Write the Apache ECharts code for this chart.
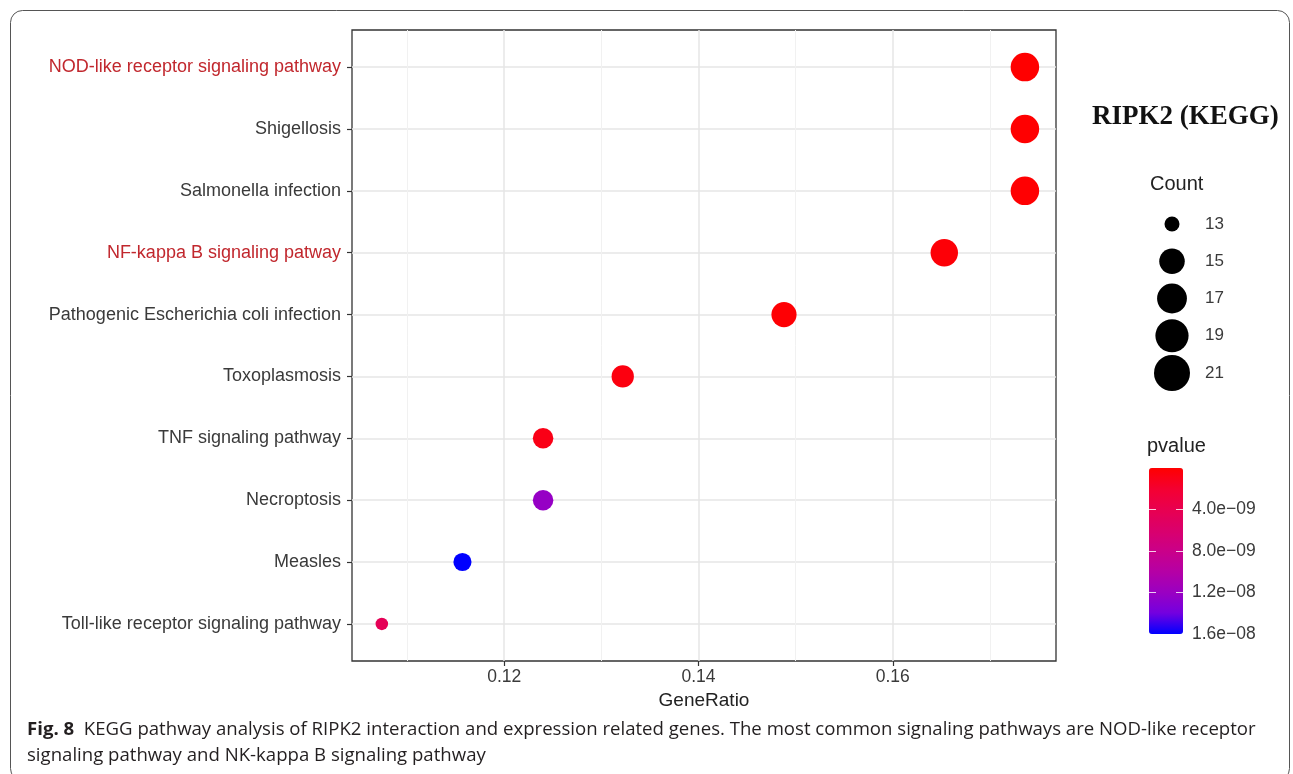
<!DOCTYPE html>
<html>
<head>
<meta charset="utf-8">
<script src="https://cdn.jsdelivr.net/npm/echarts@6/dist/echarts.min.js"></script>
<style>
  html, body { margin: 0; padding: 0; background: #fff; }
  #chart { width: 1293px; height: 774px; }
</style>
</head>
<body>
<div id="chart"></div>
<script>
// pathways, top to bottom
const pathways = [
  'NOD-like receptor signaling pathway',
  'Shigellosis',
  'Salmonella infection',
  'NF-kappa B signaling patway',
  'Pathogenic Escherichia coli infection',
  'Toxoplasmosis',
  'TNF signaling pathway',
  'Necroptosis',
  'Measles',
  'Toll-like receptor signaling pathway',
];
const geneRatio = [0.1736, 0.1736, 0.1736, 0.1653, 0.1488, 0.1322, 0.124, 0.124, 0.1157, 0.1074];
const counts = [21, 21, 21, 20, 18, 16, 15, 15, 14, 13];
const pvalues = [2e-11, 5e-11, 8e-11, 3e-10, 1.5e-10, 6e-10, 9e-10, 1.22e-8, 1.6e-8, 4.4e-9];
const highlighted = ['NOD-like receptor signaling pathway', 'NF-kappa B signaling patway'];

const xTicks = [0.12, 0.14, 0.16];
const xMinorTicks = [0.11, 0.13, 0.15, 0.17];
const countBreaks = [13, 15, 17, 19, 21];
const pvalueTicks = [4e-9, 8e-9, 1.2e-8, 1.6e-8];

const FONT = 'Liberation Sans';
const TXT = '#3a3a3a';

// ggplot-like area scale for point size
function sizeFor(c, lo, hi) {
  return lo + Math.sqrt((c - 13) / (21 - 13)) * (hi - lo);
}

function sci(v) {
  const parts = v.toExponential(1).split('e');
  const e = parseInt(parts[1], 10);
  return parts[0] + 'e' + (e < 0 ? '\u2212' : '+') + String(Math.abs(e)).padStart(2, '0');
}

const n = pathways.length;
const points = pathways.map((name, i) => [geneRatio[i], n - i, counts[i], pvalues[i], name]);
const legendPoints = countBreaks.map((c) => [1, c, c]);

const chart = echarts.init(document.getElementById('chart'));
chart.setOption({
  backgroundColor: '#fff',
  animation: false,
  textStyle: { fontFamily: FONT },
  title: [
    {
      text: 'RIPK2 (KEGG)',
      left: 1092, top: 104, padding: 0,
      textStyle: { fontFamily: 'Liberation Serif', fontWeight: 'bold', fontSize: 27, color: '#111' },
    },
    {
      text: 'Count',
      left: 1150, top: 174, padding: 0,
      textStyle: { fontFamily: FONT, fontWeight: 'normal', fontSize: 20, color: '#222' },
    },
    {
      text: 'pvalue',
      left: 1147, top: 436, padding: 0,
      textStyle: { fontFamily: FONT, fontWeight: 'normal', fontSize: 20, color: '#222' },
    },
    {
      text: '{b|Fig. 8}  KEGG pathway analysis of RIPK2 interaction and expression related genes. The most common signaling pathways are NOD-like receptor\nsignaling pathway and NK-kappa B signaling pathway',
      left: 27, top: 717, padding: 0,
      textStyle: {
        fontFamily: 'Open Sans', fontWeight: 'normal', fontSize: 18.6, color: '#231f20', lineHeight: 26,
        rich: { b: { fontFamily: 'Open Sans', fontWeight: 'bold', fontSize: 18.6, color: '#231f20', lineHeight: 26 } },
      },
    },
  ],
  graphic: [
    {
      type: 'rect',
      shape: { x: 10.5, y: 10.5, width: 1279, height: 770, r: 12 },
      style: { fill: 'none', stroke: '#555', lineWidth: 1 },
      silent: true,
    },
  ],
  grid: [
    { left: 352, right: 237, top: 30, bottom: 113, show: true, borderColor: '#333', borderWidth: 1.3, backgroundColor: 'transparent' },
    { left: 1152, width: 40, top: 224, height: 149 },
    { left: 1149, width: 34, top: 468, height: 166 },
  ],
  xAxis: [
    {
      gridIndex: 0, type: 'value', min: 0.10433, max: 0.1768,
      axisLine: { show: false },
      axisTick: { show: true, customValues: xTicks, length: 5, lineStyle: { color: '#333', width: 1.2 } },
      axisLabel: { customValues: xTicks, margin: 7, color: TXT, fontSize: 17.5, fontFamily: FONT, formatter: (v) => v.toFixed(2) },
      splitLine: { show: true, lineStyle: { color: '#e6e6e6', width: 1.5 } },
      name: 'GeneRatio', nameLocation: 'middle', nameGap: 26,
      nameTextStyle: { color: '#222', fontSize: 19, fontFamily: FONT },
      z: 1,
    },
    {
      gridIndex: 0, type: 'value', min: 0.10433, max: 0.1768,
      axisLine: { show: false },
      axisTick: { show: false, customValues: xMinorTicks },
      axisLabel: { show: false },
      splitLine: { show: true, lineStyle: { color: '#f1f1f1', width: 1 } },
      z: 0,
    },
    { gridIndex: 1, type: 'value', min: 0, max: 2, show: false },
    { gridIndex: 2, type: 'value', min: 0, max: 1, show: false },
  ],
  yAxis: [
    {
      gridIndex: 0, type: 'value', min: 0.4, max: 10.6,
      axisLine: { show: false },
      axisTick: { show: true, customValues: pathways.map((_, i) => i + 1), length: 5, lineStyle: { color: '#333', width: 1.2 } },
      axisLabel: {
        customValues: pathways.map((_, i) => i + 1),
        margin: 11, fontSize: 18, color: TXT, fontFamily: FONT,
        formatter: (v) => {
          const name = pathways[n - Math.round(v)];
          return highlighted.includes(name) ? '{r|' + name + '}' : name;
        },
        rich: { r: { color: '#c1272d', fontSize: 18, fontFamily: FONT } },
      },
      splitLine: { show: true, lineStyle: { color: '#e6e6e6', width: 1.5 } },
    },
    {
      gridIndex: 1, type: 'value', min: 13, max: 21, inverse: true, position: 'right',
      axisLine: { show: false },
      axisTick: { show: false, customValues: countBreaks },
      axisLabel: { customValues: countBreaks, margin: 13, fontSize: 17, color: TXT, fontFamily: FONT },
      splitLine: { show: false },
    },
    {
      gridIndex: 2, type: 'value', min: 0, max: 1.6e-8, inverse: true, position: 'left',
      axisLine: { show: false },
      axisTick: { show: true, inside: true, length: 7, customValues: pvalueTicks, lineStyle: { color: 'rgba(255,255,255,0.8)', width: 1 } },
      axisLabel: { show: false },
      splitLine: { show: false },
      z: 10,
    },
    {
      gridIndex: 2, type: 'value', min: 0, max: 1.6e-8, inverse: true, position: 'right',
      axisLine: { show: false },
      axisTick: { show: true, inside: true, length: 7, customValues: pvalueTicks, lineStyle: { color: 'rgba(255,255,255,0.8)', width: 1 } },
      axisLabel: { customValues: pvalueTicks, margin: 9, fontSize: 17.5, color: TXT, fontFamily: FONT, formatter: sci },
      splitLine: { show: false },
      z: 10,
    },
  ],
  visualMap: {
    type: 'continuous',
    seriesIndex: 0,
    dimension: 3,
    min: 0,
    max: 1.6e-8,
    inverse: true,
    calculable: false,
    hoverLink: false,
    left: 1149,
    top: 468,
    padding: 0,
    itemWidth: 34,
    itemHeight: 166,
    text: null,
    z: 2,
    inRange: {
      color: ['#ff0000', '#f40031', '#e80050', '#da006c', '#ca0089', '#b500a5', '#9a00c2', '#7300e0', '#0000ff'],
    },
  },
  series: [
    {
      type: 'scatter',
      xAxisIndex: 0,
      yAxisIndex: 0,
      data: points,
      symbolSize: (d) => sizeFor(d[2], 12.5, 28.5),
      itemStyle: { opacity: 1 },
      clip: false,
      z: 5,
    },
    {
      type: 'scatter',
      xAxisIndex: 2,
      yAxisIndex: 1,
      data: legendPoints,
      symbolSize: (d) => sizeFor(d[2], 15, 36),
      itemStyle: { color: '#000', opacity: 1 },
      clip: false,
    },
  ],
});
</script>
</body>
</html>
